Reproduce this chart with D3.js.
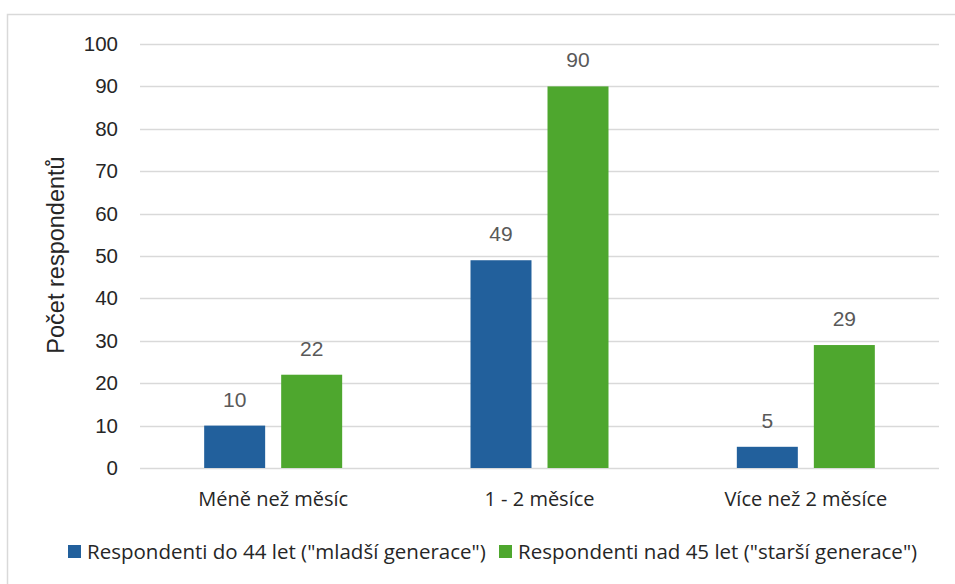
<!DOCTYPE html>
<html>
<head>
<meta charset="utf-8">
<script src="https://cdn.jsdelivr.net/npm/d3@7"></script>
<style>
  html, body { margin: 0; padding: 0; background: #fff; }
  svg { display: block; }
</style>
</head>
<body>
<svg id="chart" width="955" height="584"></svg>
<script>
// Data
const categories = ["Méně než měsíc", "1 - 2 měsíce", "Více než 2 měsíce"];
const seriesNames = [
  'Respondenti do 44 let ("mladší generace")',
  'Respondenti nad 45 let ("starší generace")'
];
const youngerValues = [10, 49, 5];
const olderValues = [22, 90, 29];
const yTicks = [0, 10, 20, 30, 40, 50, 60, 70, 80, 90, 100];
const seriesColors = ["#22609c", "#4ea72e"];

const rows = categories.map((c, i) => ({ cat: c, values: [youngerValues[i], olderValues[i]] }));

const svg = d3.select("#chart");

// Outer frame
svg.append("rect")
  .attr("x", 7.5).attr("y", 14.5)
  .attr("width", 980).attr("height", 600)
  .attr("fill", "#fff").attr("stroke", "#d9d9d9").attr("stroke-width", 1.5);

const plot = { left: 140, right: 939, top: 44, bottom: 468 };

const x0 = d3.scaleBand().domain(categories).range([plot.left, plot.right]).padding(0);
const groupWidth = 138;
const x1 = d3.scaleBand().domain([0, 1]).range([0, groupWidth]).paddingInner(0.208).paddingOuter(0);
const y = d3.scaleLinear().domain([0, 100]).range([plot.bottom, plot.top]);

// Gridlines
svg.append("g").selectAll("line").data(yTicks).join("line")
  .attr("x1", plot.left).attr("x2", plot.right)
  .attr("y1", d => Math.round(y(d)) + 0.5).attr("y2", d => Math.round(y(d)) + 0.5)
  .attr("stroke", "#d9d9d9").attr("stroke-width", 1.5);

// Y axis tick labels
const yAxis = d3.axisLeft(y).tickValues(yTicks).tickSize(0).tickPadding(0);
const yg = svg.append("g").attr("transform", `translate(${plot.left - 22},0)`).call(yAxis);
yg.select(".domain").remove();
yg.selectAll("text")
  .attr("font-family", "'Liberation Sans', Arial, sans-serif")
  .attr("font-size", 20.5).attr("fill", "#262626");

// Y axis title
svg.append("text")
  .attr("transform", `translate(64,255) rotate(-90)`)
  .attr("text-anchor", "middle")
  .attr("font-family", "'Liberation Sans', Arial, sans-serif")
  .attr("font-size", 23.5).attr("fill", "#262626")
  .text("Počet respondentů");

// Bars
const groups = svg.append("g").selectAll("g").data(rows).join("g")
  .attr("transform", d => `translate(${x0(d.cat) + x0.bandwidth() / 2 - groupWidth / 2},0)`);

groups.selectAll("rect").data(d => d.values.map((v, s) => ({ v, s }))).join("rect")
  .attr("x", d => x1(d.s))
  .attr("width", x1.bandwidth())
  .attr("y", d => y(d.v))
  .attr("height", d => y(0) - y(d.v))
  .attr("fill", d => seriesColors[d.s]);

// Value labels
groups.selectAll("text").data(d => d.values.map((v, s) => ({ v, s }))).join("text")
  .attr("x", d => x1(d.s) + x1.bandwidth() / 2)
  .attr("y", d => y(d.v) - 19)
  .attr("text-anchor", "middle")
  .attr("font-family", "'Liberation Sans', Arial, sans-serif")
  .attr("font-size", 21).attr("fill", "#595959")
  .text(d => d.v);

// Category labels
const xAxis = d3.axisBottom(x0).tickSize(0).tickPadding(0);
const xg = svg.append("g").attr("transform", `translate(0,${plot.bottom + 38})`).call(xAxis);
xg.select(".domain").remove();
xg.selectAll("text")
  .attr("dy", 0)
  .attr("font-family", "'Open Sans', sans-serif")
  .attr("font-size", 20).attr("fill", "#262626");

// Legend
const legendItems = [
  { name: seriesNames[0], color: seriesColors[0], x: 68 },
  { name: seriesNames[1], color: seriesColors[1], x: 499 }
];
const lg = svg.append("g").selectAll("g").data(legendItems).join("g")
  .attr("transform", d => `translate(${d.x},545)`);
lg.append("rect").attr("width", 13).attr("height", 13).attr("fill", d => d.color);
lg.append("text")
  .attr("x", 19).attr("y", 13.5)
  .attr("font-family", "'Open Sans', sans-serif")
  .attr("font-size", 20.5).attr("fill", "#262626")
  .text(d => d.name);
</script>
</body>
</html>
